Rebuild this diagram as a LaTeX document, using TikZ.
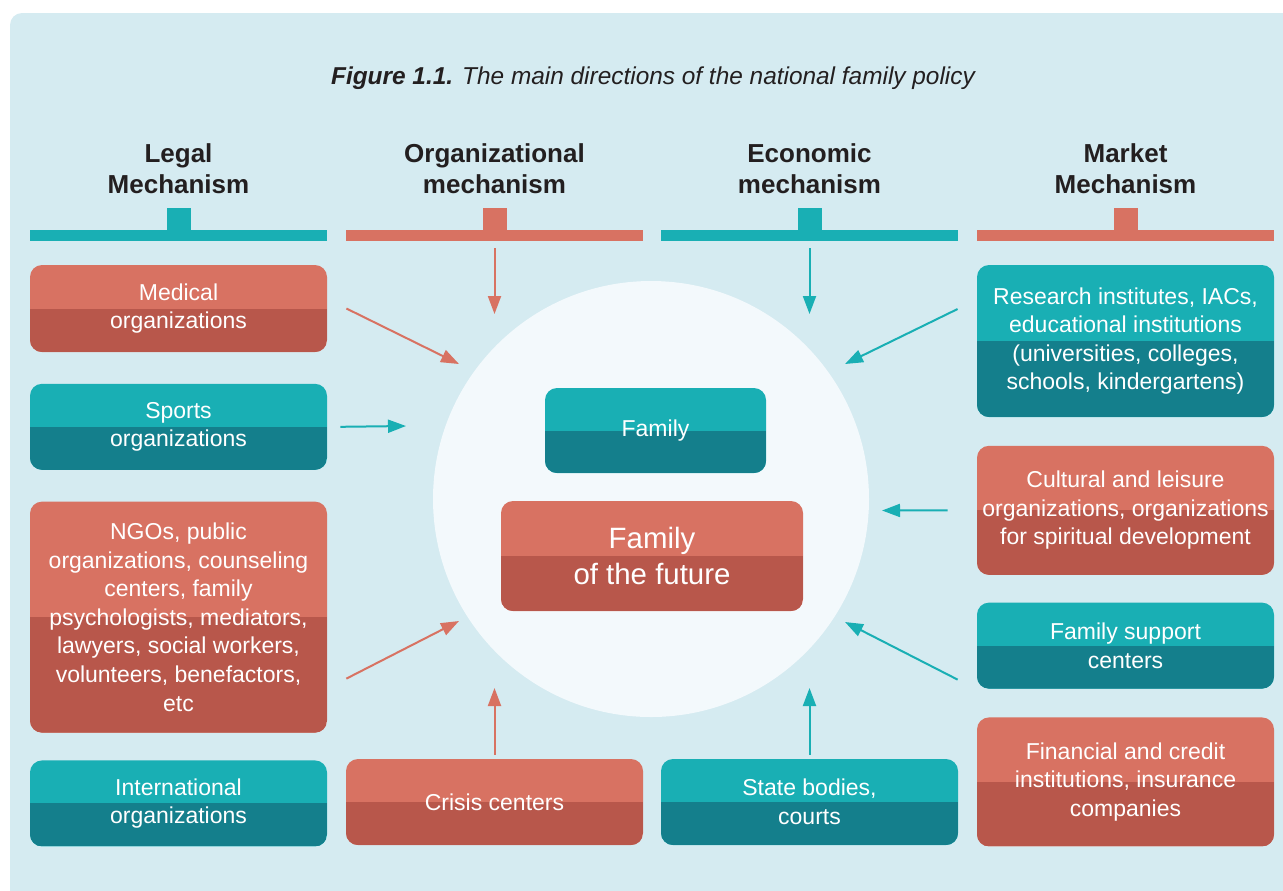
\documentclass[tikz,border=0pt]{standalone}
\usepackage{fontspec}
\setmainfont{Liberation Sans}
\usepackage{tikz}
\usetikzlibrary{positioning, shapes, arrows.meta}
\usepackage{xcolor}
\definecolor{textdark}{HTML}{231F20}
\definecolor{bgblue}{HTML}{D5EBF1}
\definecolor{circlebg}{HTML}{F3F9FC}
\definecolor{tealtop}{HTML}{19AFB4}
\definecolor{tealbot}{HTML}{147F8C}
\definecolor{redtop}{HTML}{D87262}
\definecolor{redbot}{HTML}{B8574B}

\begin{document}
\begin{tikzpicture}[x=0.5pt, y=-0.5pt,
box/.style={rectangle, rounded corners=6pt, minimum width=148.5pt, inner sep=0pt, align=center, text=white, font=\fontsize{11.5}{14.3}\selectfont},
tealbox/.style={box, fill=tealtop, path picture={\fill[tealbot, sharp corners] (path picture bounding box.west) rectangle (path picture bounding box.south east);}},
redbox/.style={box, fill=redtop, path picture={\fill[redbot, sharp corners] (path picture bounding box.west) rectangle (path picture bounding box.south east);}},
head/.style={align=center, text=textdark, font=\fontsize{13}{15.5}\selectfont\bfseries},
bar/.style={rectangle, minimum width=148.5pt, minimum height=5.5pt, inner sep=0pt},
tealarr/.style={draw=tealtop, line width=1pt, -{Triangle[length=9pt,width=6.5pt]}},
redarr/.style={draw=redtop, line width=1pt, -{Triangle[length=9pt,width=6.5pt]}}]
\useasboundingbox (0,0) rectangle (1283,890);
\fill[bgblue, rounded corners=6pt] (10,13) rectangle (1300,910);

\node[text=textdark, font=\fontsize{12.2}{14}\selectfont\itshape] (title) at (653,78) {\textbf{Figure 1.1.} The main directions of the national family policy};

% mechanisms
\node[head] (legalhead) at (178.5,169) {Legal\\Mechanism};
\node[head] (orghead) at (494.5,169) {Organizational\\mechanism};
\node[head] (ecohead) at (809.5,169) {Economic\\mechanism};
\node[head] (markethead) at (1125.5,169) {Market\\Mechanism};

\node[bar, fill=tealtop] (legalbar) at (178.5,235.5) {};
\node[bar, fill=redtop] (orgbar) at (494.5,235.5) {};
\node[bar, fill=tealtop] (ecobar) at (809.5,235.5) {};
\node[bar, fill=redtop] (marketbar) at (1125.5,235.5) {};
\fill[tealtop] ([xshift=-6pt]legalbar.north) rectangle ([xshift=6pt,yshift=11pt]legalbar.north);
\fill[redtop] ([xshift=-6pt]orgbar.north) rectangle ([xshift=6pt,yshift=11pt]orgbar.north);
\fill[tealtop] ([xshift=-6pt]ecobar.north) rectangle ([xshift=6pt,yshift=11pt]ecobar.north);
\fill[redtop] ([xshift=-6pt]marketbar.north) rectangle ([xshift=6pt,yshift=11pt]marketbar.north);

% centre
\node[circle, fill=circlebg, minimum size=218pt, inner sep=0pt] (centre) at (651,499) {};
\node[tealbox, minimum width=110.5pt, minimum height=42.5pt] (family) at (655.5,430.5) {Family};
\node[redbox, minimum width=151pt, minimum height=55pt, font=\fontsize{14.7}{17.8}\selectfont] (future) at (652,556) {Family\\of the future};

% left column
\node[redbox, minimum height=43.5pt] (medical) at (178.5,308.5) {Medical\\organizations};
\node[tealbox, minimum height=43pt, below=15.5pt of medical] (sports) {Sports\\organizations};
\node[redbox, minimum height=115.5pt, below=15.5pt of sports] (ngos) {NGOs, public\\organizations, counseling\\centers, family\\psychologists, mediators,\\lawyers, social workers,\\volunteers, benefactors,\\etc};
\node[tealbox, minimum height=43pt, below=13.5pt of ngos] (international) {International\\organizations};

% bottom row
\node[redbox, minimum height=43pt] (crisis) at (494.5,802) {Crisis centers};
\node[tealbox, minimum height=43pt] (state) at (809.5,802) {State bodies,\\courts};

% right column
\node[tealbox, minimum height=76pt] (research) at (1125.5,341) {Research institutes, IACs,\\educational institutions\\(universities, colleges,\\schools, kindergartens)};
\node[redbox, minimum height=64.5pt, below=14pt of research] (cultural) {Cultural and leisure\\organizations, organizations\\for spiritual development};
\node[tealbox, minimum height=43pt, below=13.5pt of cultural] (support) {Family support\\centers};
\node[redbox, minimum height=64.5pt, below=14pt of support] (financial) {Financial and credit\\institutions, insurance\\companies};

% arrow tips
\coordinate (tipmedical) at (459,364);
\coordinate (tipsports) at (406,426);
\coordinate (tipngos) at (459,621);
\coordinate (tiporg) at (494.5,314);
\coordinate (tipeco) at (809.5,314);
\coordinate (tipcrisis) at (494.5,688);
\coordinate (tipstate) at (809.5,688);
\coordinate (tipresearch) at (845,364);
\coordinate (tipcultural) at (882,510.5);
\coordinate (tipsupport) at (845,622);

\draw[redarr] ([xshift=9.5pt]medical.east) -- (tipmedical);
\draw[tealarr] ([xshift=6.5pt]sports.east) -- (tipsports);
\draw[redarr] ([xshift=9.5pt,yshift=-30.75pt]ngos.east) -- (tipngos);
\draw[redarr] ([yshift=-3.5pt]orgbar.south) -- (tiporg);
\draw[tealarr] ([yshift=-3.5pt]ecobar.south) -- (tipeco);
\draw[redarr] ([yshift=2pt]crisis.north) -- (tipcrisis);
\draw[tealarr] ([yshift=2pt]state.north) -- (tipstate);
\draw[tealarr] ([xshift=-9.5pt,yshift=16pt]research.west) -- (tipresearch);
\draw[tealarr] ([xshift=-14.5pt]cultural.west) -- (tipcultural);
\draw[tealarr] ([xshift=-9.5pt,yshift=-17pt]support.west) -- (tipsupport);
\end{tikzpicture}
\end{document}
